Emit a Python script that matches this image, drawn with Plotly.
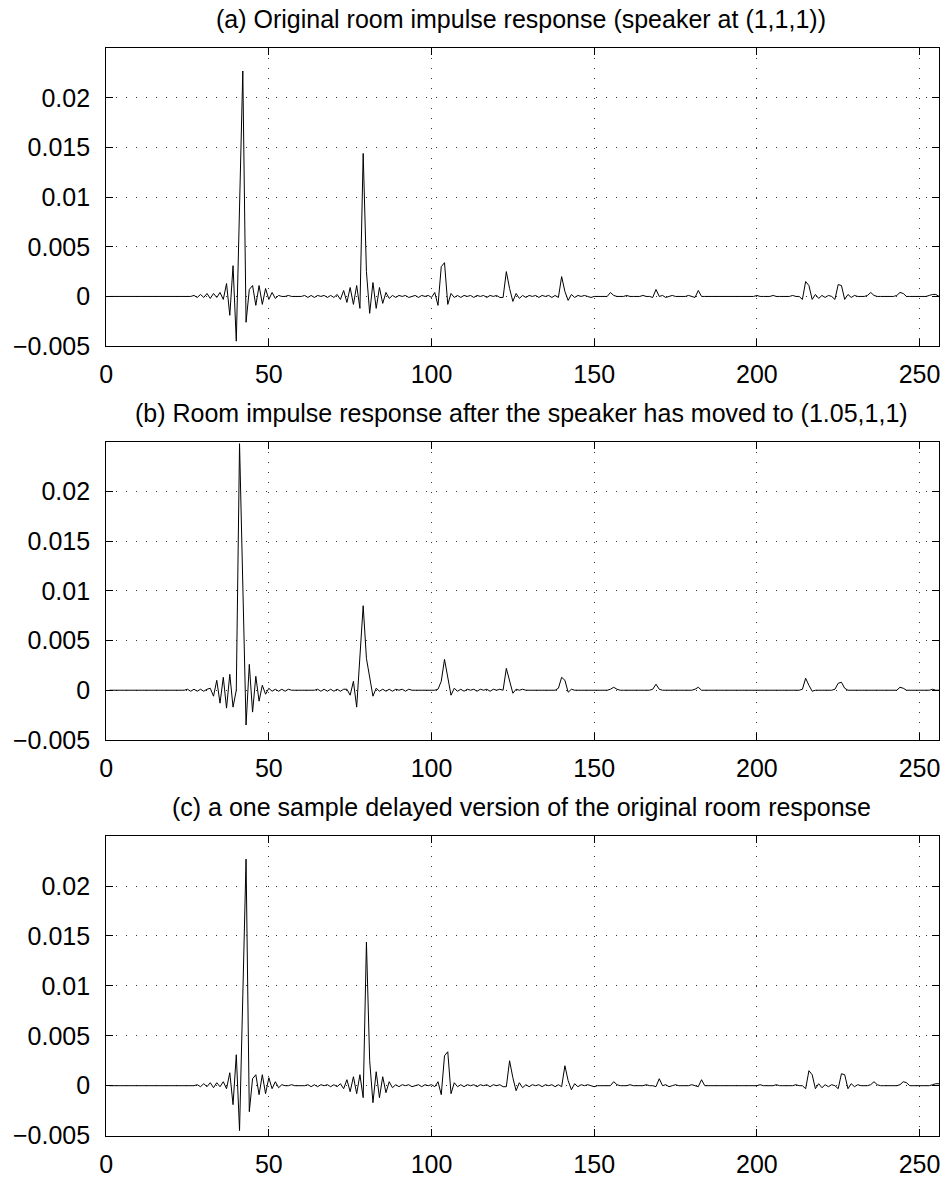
import plotly.graph_objects as go

# ---------------- data (sample index 1..256) ----------------
samples = list(range(1, 257))

original = [
    0, 0, 0, 0, 0, 0, 0, 0, 0, 0, 0, 0, 0, 0, 0, 0,
    0, 0, 0, 0, 0, 0, 0, 0, 0, 0, 0.0001, -0.0001, 0.0002, -0.0001, 0.0003, -0.0002,
    0.0003, -0.0001, 0.0004, -0.0003, 0.0013, -0.0019, 0.0031, -0.0045, 0.0090, 0.0227, -0.0026, 0.0007, 0.0011, -0.0009, 0.0011, -0.0008,
    0.0008, -0.0003, 0.0004, -0.0002, 0.0001, 0, 0, 0.0001, 0, 0, 0, 0, 0.0001, -0.0001, 0.0001, -0.0001,
    0.0001, 0, 0.0001, -0.0001, 0.0001, -0.0001, 0.0002, -0.0003, 0.0006, -0.0006, 0.0009, -0.0008, 0.0011, -0.0012, 0.0144, 0.0025,
    -0.0017, 0.0014, -0.0012, 0.0009, -0.0007, 0.0004, -0.0002, 0.0001, -0.0001, 0.0001, 0, 0.0001, -0.0001, 0, 0.0001, -0.0001,
    0.0001, 0, 0.0001, -0.0001, 0.0004, -0.0009, 0.0030, 0.0034, -0.0008, 0.0003, -0.0001, 0.0001, -0.0001, 0.0001, 0, 0.0001,
    -0.0001, 0.0001, 0, 0.0001, -0.0001, 0.0001, 0, 0.0001, -0.0001, -0.0001, 0.0025, 0.0008, -0.0005, 0.0003, -0.0002, 0.0001,
    -0.0001, 0.0001, 0, 0.0001, -0.0001, 0.0001, 0, 0.0001, -0.0001, 0.0001, -0.0001, 0.0020, 0.0005, -0.0004, 0.0002, -0.0001,
    0.0001, 0, 0.0001, 0, -0.0001, 0, 0, 0, 0, 0, 0.0004, 0.0001, 0, 0, 0, 0.0001,
    0, 0, 0, 0, 0.0001, 0, 0, -0.0001, 0.0007, 0, 0.0001, -0.0001, 0, 0.0001, 0, 0,
    0, 0, 0.0001, 0, -0.0001, 0.0006, 0, 0, 0, 0, 0, 0, 0, 0, 0, 0,
    0, 0, 0, 0, 0, 0, 0, 0.0001, 0, 0, 0, 0, 0.0001, 0, 0, 0,
    0, 0, 0.0001, 0, 0, -0.0003, 0.0015, 0.0011, -0.0003, 0.0002, -0.0002, 0.0001, -0.0001, 0.0001, 0, -0.0003,
    0.0012, 0.0011, -0.0003, 0.0002, -0.0001, 0.0001, 0, 0, 0, 0.0001, 0.0004, 0.0001, 0, 0, 0, 0,
    0, 0, 0.0001, 0.0004, 0.0003, 0, 0, 0, 0, 0, 0, 0, 0.0001, 0.0002, 0.0002, 0,
]

moved = [
    0, 0, 0, 0, 0, 0, 0, 0, 0, 0, 0, 0, 0, 0, 0, 0,
    0, 0, 0, 0, 0, 0, 0, 0, 0.0001, -0.0001, 0.0001, -0.0001, 0.0001, -0.0001, 0.0001, 0.0002,
    -0.0006, 0.0010, -0.0013, 0.0013, -0.0018, 0.0016, -0.0017, 0.0000, 0.0248, 0.0100, -0.0035, 0.0026, -0.0022, 0.0014, -0.0011, 0.0005,
    -0.0004, 0.0002, -0.0001, 0.0001, -0.0001, 0.0001, -0.0001, 0.0001, 0, 0, 0, 0, 0, 0, 0, 0,
    0.0001, -0.0001, 0.0001, -0.0001, 0.0001, -0.0001, 0.0001, -0.0001, 0.0001, 0.0001, -0.0005, 0.0009, -0.0017, 0.0035, 0.0085, 0.0032,
    0.0014, -0.0006, 0.0002, -0.0001, 0.0001, -0.0001, 0.0001, -0.0001, 0.0001, 0, 0.0001, -0.0001, 0.0001, 0, 0, 0,
    0, 0, 0, 0, 0, 0.0001, 0.0009, 0.0031, 0.0012, -0.0005, 0.0002, -0.0001, 0.0001, -0.0001, 0.0001, 0,
    0.0001, -0.0001, 0.0001, 0, 0.0001, -0.0001, 0.0001, 0, 0.0001, 0, 0.0022, 0.0009, -0.0003, 0.0001, 0, 0.0001,
    0, 0, 0, 0, 0, 0, 0, 0, 0, 0, 0.0002, 0.0013, 0.0010, -0.0002, 0.0001, 0,
    0, 0, 0, 0, 0, 0, 0, 0, 0, 0, 0.0001, 0.0003, 0.0001, 0, 0, 0,
    0, 0, 0, 0, 0, 0, 0, 0.0001, 0.0006, 0.0001, 0, 0, 0, 0, 0, 0,
    0, 0, 0, 0, 0.0001, 0.0003, 0, 0, 0, 0, 0, 0, 0, 0, 0, 0,
    0, 0, 0, 0, 0, 0, 0, 0, 0, 0, 0, 0, 0, 0, 0, 0,
    0, 0, 0, 0, 0, 0.0001, 0.0012, 0.0005, -0.0001, 0, 0, 0, 0, 0, 0, 0.0001,
    0.0007, 0.0008, 0.0002, 0, 0, 0, 0, 0, 0, 0, 0, 0, 0, 0, 0, 0,
    0, 0, 0, 0.0003, 0.0002, 0, 0, 0, 0, 0, 0, 0, 0, 0.0001, 0, 0,
]

delayed = [
    0, 0, 0, 0, 0, 0, 0, 0, 0, 0, 0, 0, 0, 0, 0, 0,
    0, 0, 0, 0, 0, 0, 0, 0, 0, 0, 0, 0.0001, -0.0001, 0.0002, -0.0001, 0.0003,
    -0.0002, 0.0003, -0.0001, 0.0004, -0.0003, 0.0013, -0.0019, 0.0031, -0.0045, 0.0090, 0.0227, -0.0026, 0.0007, 0.0011, -0.0009, 0.0011,
    -0.0008, 0.0008, -0.0003, 0.0004, -0.0002, 0.0001, 0, 0, 0.0001, 0, 0, 0, 0, 0.0001, -0.0001, 0.0001,
    -0.0001, 0.0001, 0, 0.0001, -0.0001, 0.0001, -0.0001, 0.0002, -0.0003, 0.0006, -0.0006, 0.0009, -0.0008, 0.0011, -0.0012, 0.0144,
    0.0025, -0.0017, 0.0014, -0.0012, 0.0009, -0.0007, 0.0004, -0.0002, 0.0001, -0.0001, 0.0001, 0, 0.0001, -0.0001, 0, 0.0001,
    -0.0001, 0.0001, 0, 0.0001, -0.0001, 0.0004, -0.0009, 0.0030, 0.0034, -0.0008, 0.0003, -0.0001, 0.0001, -0.0001, 0.0001, 0,
    0.0001, -0.0001, 0.0001, 0, 0.0001, -0.0001, 0.0001, 0, 0.0001, -0.0001, -0.0001, 0.0025, 0.0008, -0.0005, 0.0003, -0.0002,
    0.0001, -0.0001, 0.0001, 0, 0.0001, -0.0001, 0.0001, 0, 0.0001, -0.0001, 0.0001, -0.0001, 0.0020, 0.0005, -0.0004, 0.0002,
    -0.0001, 0.0001, 0, 0.0001, 0, -0.0001, 0, 0, 0, 0, 0, 0.0004, 0.0001, 0, 0, 0,
    0.0001, 0, 0, 0, 0, 0.0001, 0, 0, -0.0001, 0.0007, 0, 0.0001, -0.0001, 0, 0.0001, 0,
    0, 0, 0, 0.0001, 0, -0.0001, 0.0006, 0, 0, 0, 0, 0, 0, 0, 0, 0,
    0, 0, 0, 0, 0, 0, 0, 0, 0.0001, 0, 0, 0, 0, 0.0001, 0, 0,
    0, 0, 0, 0.0001, 0, 0, -0.0003, 0.0015, 0.0011, -0.0003, 0.0002, -0.0002, 0.0001, -0.0001, 0.0001, 0,
    -0.0003, 0.0012, 0.0011, -0.0003, 0.0002, -0.0001, 0.0001, 0, 0, 0, 0.0001, 0.0004, 0.0001, 0, 0, 0,
    0, 0, 0, 0.0001, 0.0004, 0.0003, 0, 0, 0, 0, 0, 0, 0, 0.0001, 0.0002, 0.0002,
]

titles = [
    "(a) Original room impulse response (speaker at (1,1,1))",
    "(b) Room impulse response after the speaker has moved to (1.05,1,1)",
    "(c) a one sample delayed version of the original room response",
]

x_tickvals = [0, 50, 100, 150, 200, 250]
x_ticktext = ["0", "50", "100", "150", "200", "250"]
y_tickvals = [-0.005, 0, 0.005, 0.01, 0.015, 0.02]
y_ticktext = ["\u22120.005", "0", "0.005", "0.01", "0.015", "0.02"]

# ---------------- layout geometry (pixels) ----------------
W, H = 946, 1183
left_px, right_px = 100, 940
panels_px = [(48.75, 350.25), (447.0, 748.8), (846.2, 1149.2)]  # (top, bottom)
title_center_px = [19, 418, 817]
title_center_x = 518.5

FONT = "Liberation Sans, Arial, Helvetica, sans-serif"

fig = go.Figure()
series = [original, moved, delayed]
for i, ys in enumerate(series):
    suffix = "" if i == 0 else str(i + 1)
    fig.add_trace(go.Scatter(
        x=samples, y=ys, mode="lines",
        line=dict(color="black", width=1),
        xaxis="x" + suffix, yaxis="y" + suffix,
        showlegend=False, hoverinfo="skip",
    ))

axis_common = dict(
    showline=True, linecolor="black", linewidth=1, mirror="ticks",
    ticks="inside", ticklen=7, tickcolor="black", tickwidth=1,
    showgrid=True, gridcolor="rgba(0,0,0,0.8)", gridwidth=1, griddash="1px,9px",
    zeroline=False, tickfont=dict(family=FONT, size=25, color="black"),
)

layout = dict(
    width=W, height=H, margin=dict(l=0, r=0, t=0, b=0),
    paper_bgcolor="white", plot_bgcolor="white",
    font=dict(family=FONT, size=25, color="black"),
    annotations=[],
)

for i, (top, bot) in enumerate(panels_px):
    suffix = "" if i == 0 else str(i + 1)
    layout["xaxis" + suffix] = dict(
        axis_common,
        domain=[left_px / W, right_px / W], range=[0, 256],
        tickvals=x_tickvals, ticktext=x_ticktext,
        anchor="y" + suffix, ticklabelstandoff=6,
    )
    layout["yaxis" + suffix] = dict(
        axis_common,
        domain=[1 - bot / H, 1 - top / H], range=[-0.005, 0.025],
        tickvals=y_tickvals, ticktext=y_ticktext,
        anchor="x" + suffix, ticklabelstandoff=10,
    )
    layout["annotations"].append(dict(
        text=titles[i], xref="paper", yref="paper",
        x=title_center_x / W, y=1 - title_center_px[i] / H,
        xanchor="center", yanchor="middle", showarrow=False,
        font=dict(family=FONT, size=25, color="black"),
    ))

fig.update_layout(**layout)
fig.write_html("out.html")
